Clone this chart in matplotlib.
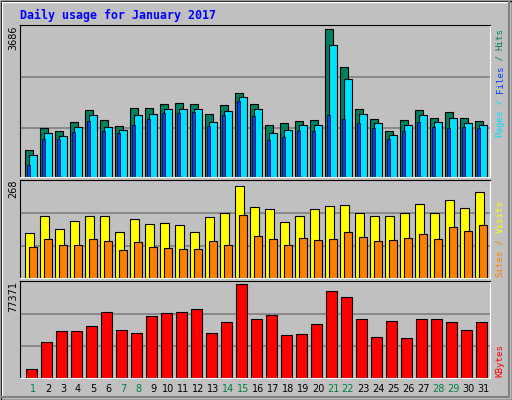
import numpy as np
import matplotlib.pyplot as plt
from matplotlib.patches import Rectangle

days = np.arange(1, 32)
weekend = [1, 7, 8, 14, 15, 21, 22, 28, 29]

hits = [684, 1234, 1159, 1384, 1660, 1434, 1284, 1710, 1710, 1810, 1835, 1810, 1560, 1785, 2085, 1810,
        1309, 1359, 1409, 1434, 3686, 2735, 1685, 1459, 1159, 1434, 1660, 1484, 1610, 1484, 1409]
files = [559, 1109, 1034, 1259, 1535, 1259, 1184, 1535, 1560, 1685, 1685, 1685, 1384, 1635, 1985, 1685,
         1109, 1184, 1309, 1309, 3286, 2435, 1560, 1359, 1059, 1309, 1535, 1384, 1484, 1359, 1309]
pages = [309, 959, 959, 1134, 1409, 1159, 1109, 1309, 1459, 1585, 1585, 1610, 1284, 1535, 1885, 1510,
         934, 1009, 1159, 1159, 1535, 1459, 1359, 1234, 959, 1159, 1384, 1259, 1234, 1259, 1234]
visits = [131, 181, 143, 166, 181, 181, 134, 172, 157, 160, 154, 134, 178, 189, 268, 207,
          201, 163, 181, 201, 210, 213, 189, 181, 181, 189, 216, 189, 227, 204, 250]
sites = [90, 114, 96, 96, 114, 108, 82, 105, 90, 87, 84, 84, 108, 96, 184, 122,
         114, 96, 117, 111, 114, 134, 119, 108, 111, 117, 128, 114, 149, 137, 154]
kbytes = [7059, 29932, 38403, 38403, 42639, 54498, 39250, 37556, 51110, 53651, 54498, 57040, 37556,
          46027, 77371, 48569, 51957, 35861, 36709, 44333, 71441, 67204, 48569, 34167, 46874, 33320,
          48569, 48569, 46027, 39250, 46027]

W, H = 512, 400
BG = "#C0C0C0"
fig = plt.figure(figsize=(W / 100, H / 100), dpi=100, facecolor=BG)
mono = "DejaVu Sans Mono"

# bevelled frame
frame = fig.add_axes([0, 0, 1, 1])
frame.set_xlim(0, W)
frame.set_ylim(H, 0)
frame.axis("off")
frame.add_patch(Rectangle((0.5, 0.5), W - 1, H - 1, fill=False, ec="black", lw=1))
frame.plot([2, W - 3], [2, 2], color="white", lw=1)
frame.plot([2, 2], [2, H - 3], color="white", lw=1)
frame.plot([2, W - 3], [H - 3, H - 3], color="#808080", lw=1.5)
frame.plot([W - 3, W - 3], [2, H - 3], color="#808080", lw=1.5)


def panel(top, bottom, ymax, label_top):
    ax = fig.add_axes([20 / W, 1 - bottom / H, 470 / W, (bottom - top) / H])
    ax.set_facecolor(BG)
    ax.set_xlim(0.133, 31.47)
    ax.set_ylim(0, ymax)
    ax.set_xticks([])
    ax.set_yticks([])
    for s in ("left", "top"):
        ax.spines[s].set_color("black")
    for s in ("right", "bottom"):
        ax.spines[s].set_color("white")
    for f in (0.325, 0.66):
        ax.axhline(ymax * f, color="#808080", lw=1.2, zorder=0)
    fig.text(13 / W, 1 - top / H, label_top, rotation=90, ha="center", va="top",
             fontsize=7, family="DejaVu Sans")
    return ax


def side_label(parts, bottom):
    y = bottom
    for txt, col in parts:
        fig.text(500 / W, 1 - y / H, txt, rotation=90, ha="center", va="bottom",
                 fontsize=6.6, family=mono, color=col)
        y -= len(txt) * 5.45


px = 1 / 15  # one pixel in day units
HITS_C, FILES_C, PAGES_C = "#008060", "#00E0FF", "#0040FF"

ax1 = panel(25, 177, 3793, "3686")
ax1.bar(days - 8 * px, hits, width=7.7 * px, align="edge", color=HITS_C, ec="black", lw=0.8)
ax1.bar(days - 3.7 * px, files, width=7.4 * px, align="edge", color=FILES_C, ec="black", lw=0.8)
ax1.bar(days - 6.3 * px, pages, width=3.3 * px, align="edge", color=PAGES_C, ec="black", lw=0.5)
side_label([("Pages", FILES_C), (" / ", FILES_C), ("Files", PAGES_C), (" / ", HITS_C),
            ("Hits", HITS_C)], 137)

ax2 = panel(180, 278, 285, "268")
ax2.bar(days - 8 * px, visits, width=8.7 * px, align="edge", color="#FFFF00", ec="black", lw=0.8)
ax2.bar(days - 4 * px, sites, width=7.7 * px, align="edge", color="#FF8000", ec="black", lw=0.8)
side_label([("Sites", "#FF8000"), (" / ", "#FF8000"), ("Visits", "#FFFF00")], 277)

ax3 = panel(281, 378, 80100, "77371")
ax3.bar(days - 7 * px, kbytes, width=10.7 * px, align="edge", color="#FF0000", ec="black", lw=0.8)
side_label([("KBytes", "#FF0000")], 377)

for d in days:
    fig.text((33 + 15 * (d - 1)) / W, 1 - 389 / H, str(d), ha="center", va="center",
             fontsize=7, color="#008040" if d in weekend else "black")

fig.text(20 / W, 1 - 15 / H, "Daily usage for January 2017", ha="left", va="center",
         fontsize=8.4, family=mono, fontweight="bold", color="#0000FF")

fig.savefig("out.png", dpi=100, facecolor=BG)
